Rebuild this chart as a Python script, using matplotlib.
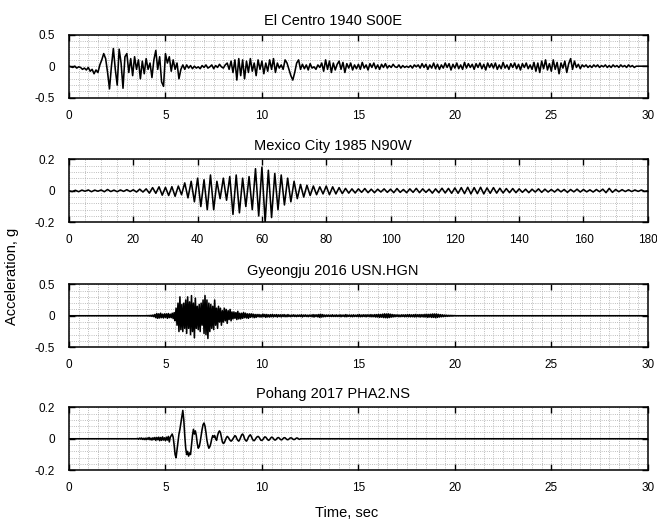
import numpy as np
import matplotlib.pyplot as plt
from matplotlib.ticker import MultipleLocator

plt.rcParams['font.family'] = ['Liberation Sans', 'DejaVu Sans']
plt.rcParams['axes.unicode_minus'] = False

# El Centro 1940 S00E, dt = 0.1 s starting at 0 s
elc_t0 = 0.0
elc_dt = 0.1
elc_acc = [
    0.0, -0.01, -0.02, 0.0, -0.03, -0.01, -0.02, -0.05, -0.03, -0.06,
    -0.02, -0.08, -0.05, -0.12, -0.06, -0.1, 0.02, 0.1, 0.2, 0.12,
    -0.1, -0.36, 0.0, 0.28, -0.05, -0.3, 0.27, 0.05, -0.35, 0.15,
    0.2, -0.1, 0.12, -0.15, 0.15, -0.05, 0.1, -0.2, 0.08, -0.12,
    0.12, -0.05, 0.05, -0.18, 0.1, 0.25, -0.05, 0.15, -0.25, -0.32,
    0.2, 0.05, 0.15, -0.08, 0.1, -0.05, 0.05, -0.2, -0.05, 0.02,
    -0.05, 0.02, -0.03, 0.01, -0.04, 0.0, -0.03, -0.01, -0.04, 0.01,
    -0.02, 0.02, -0.03, -0.01, 0.02, -0.04, 0.01, -0.02, 0.03, -0.01,
    -0.03, 0.02, 0.05, -0.05, 0.08, -0.1, 0.1, -0.22, 0.12, -0.15,
    0.1, -0.2, 0.08, -0.1, 0.12, -0.08, 0.05, -0.15, 0.1, -0.05,
    0.08, -0.12, 0.05, -0.08, 0.1, -0.05, 0.12, -0.1, 0.05, -0.03,
    0.02, -0.05, 0.1, 0.05, -0.05, -0.15, -0.22, -0.1, 0.05, 0.1,
    -0.05, 0.03, -0.04, 0.02, -0.06, 0.04, -0.03, -0.01, -0.05, 0.02,
    -0.02, 0.05, -0.08, 0.1, -0.05, 0.08, -0.1, 0.05, -0.06, 0.03,
    0.08, -0.05, 0.06, -0.1, 0.04, -0.03, 0.05, -0.06, 0.02, -0.04,
    0.03, -0.05, 0.06, -0.03, 0.02, -0.06, 0.04, -0.02, 0.05, -0.04,
    0.02, -0.05, 0.03, -0.02, 0.04, -0.03, 0.01, -0.02, 0.03, -0.01,
    -0.02, 0.02, -0.03, 0.01, -0.02, 0.0, -0.02, 0.01, -0.03, 0.02,
    -0.01, 0.02, -0.03, 0.04, -0.02, 0.03, -0.05, 0.02, -0.03, 0.05,
    -0.04, 0.03, -0.05, 0.02, -0.03, 0.05, -0.02, 0.04, -0.06, 0.03,
    -0.03, 0.05, -0.04, 0.02, -0.05, 0.06, -0.03, 0.04, -0.02, 0.03,
    -0.05, 0.04, -0.02, 0.05, -0.04, 0.03, -0.06, 0.05, -0.02, 0.04,
    -0.03, 0.05, -0.05, 0.02, -0.04, 0.06, -0.03, 0.02, -0.05, 0.04,
    -0.02, 0.05, -0.04, 0.03, -0.06, 0.04, -0.02, 0.05, -0.04, 0.02,
    -0.05, 0.06, -0.08, 0.05, -0.1, 0.08, -0.04, 0.1, -0.06, 0.04,
    -0.08, 0.1, -0.05, 0.06, -0.12, 0.05, -0.03, 0.08, -0.1, 0.04,
    0.12, -0.05, 0.08, -0.02, 0.03, -0.04, 0.02, -0.01, 0.02, -0.02,
    0.01, -0.02, 0.02, -0.01, 0.02, -0.02, 0.01, -0.01, 0.02, -0.02,
    0.01, -0.02, 0.02, -0.01, 0.01, -0.02, 0.02, -0.01, 0.01, -0.02,
    0.02, -0.01, 0.01, -0.02, 0.0,
]

# Mexico City 1985 N90W, dt = 1 s starting at 0 s
mex_t0 = 0.0
mex_dt = 1.0
mex_acc = [
    0.0, -0.005, 0.003, -0.006, 0.004, -0.003, 0.005, -0.006, 0.004, -0.003,
    0.005, -0.006, 0.008, -0.005, 0.004, -0.006, 0.005, -0.004, 0.007, -0.005,
    0.006, -0.008, 0.01, -0.008, 0.012, -0.015, 0.02, -0.016, 0.025, -0.028,
    0.022, -0.03, 0.026, -0.035, 0.03, -0.025, 0.05, -0.045, 0.06, -0.07,
    0.08, -0.1, 0.07, -0.12, 0.1, -0.12, 0.06, -0.05, 0.08, -0.06,
    0.09, -0.15, 0.1, -0.14, 0.08, -0.1, 0.09, -0.12, 0.14, -0.16,
    0.15, -0.2, 0.13, -0.17, 0.11, -0.12, 0.1, -0.09, 0.08, -0.07,
    0.06, -0.05, 0.04, -0.04, 0.035, -0.03, 0.03, -0.025, 0.025, -0.02,
    0.03, -0.025, 0.025, -0.02, 0.02, -0.018, 0.015, -0.015, 0.012, -0.014,
    0.012, -0.01, 0.014, -0.012, 0.01, -0.012, 0.01, -0.008, 0.012, -0.01,
    0.01, -0.012, 0.014, -0.01, 0.008, -0.012, 0.012, -0.01, 0.015, -0.012,
    0.012, -0.01, 0.01, -0.015, 0.012, -0.012, 0.016, -0.014, 0.015, -0.016,
    0.018, -0.016, 0.02, -0.018, 0.022, -0.02, 0.02, -0.018, 0.022, -0.02,
    0.018, -0.016, 0.02, -0.015, 0.016, -0.014, 0.014, -0.012, 0.014, -0.012,
    0.012, -0.01, 0.01, -0.012, 0.01, -0.008, 0.012, -0.01, 0.01, -0.008,
    0.008, -0.008, 0.01, -0.007, 0.008, -0.01, 0.008, -0.007, 0.01, -0.008,
    0.008, -0.007, 0.006, -0.008, 0.008, -0.006, 0.01, -0.012, 0.015, -0.01,
    0.008, -0.006, 0.007, -0.005, 0.006, -0.005, 0.005, -0.004, 0.005, -0.004,
    0.0,
]

# Gyeongju 2016 USN.HGN, dt = 0.05 s starting at 4 s
gj_t0 = 4.0
gj_dt = 0.05
gj_acc = [
    0.0, 0.003, -0.004, 0.005, -0.006, 0.008, -0.01, 0.012, -0.015, 0.02,
    -0.03, 0.035, -0.04, 0.03, -0.035, 0.04, -0.03, 0.025, -0.035, 0.03,
    -0.025, 0.03, -0.04, 0.035, -0.03, 0.025, -0.03, 0.04, -0.045, 0.05,
    -0.08, 0.12, -0.15, 0.2, -0.25, 0.3, -0.22, 0.18, -0.25, 0.2,
    -0.2, 0.25, -0.28, 0.3, -0.2, 0.22, -0.3, 0.32, -0.25, 0.2,
    -0.35, 0.28, -0.2, 0.15, -0.22, 0.18, -0.25, 0.2, -0.15, 0.25,
    -0.28, 0.32, -0.3, 0.25, -0.36, 0.2, -0.25, 0.18, -0.2, 0.15,
    -0.22, 0.25, -0.15, 0.12, -0.2, 0.15, -0.1, 0.12, -0.15, 0.08,
    -0.1, 0.12, -0.08, 0.1, -0.12, 0.08, -0.06, 0.1, -0.08, 0.06,
    -0.05, 0.06, -0.04, 0.05, -0.06, 0.07, -0.05, 0.04, -0.05, 0.04,
    -0.04, 0.05, -0.03, 0.04, -0.035, 0.03, -0.04, 0.03, -0.025, 0.03,
    -0.02, 0.025, -0.03, 0.02, -0.025, 0.02, -0.015, 0.02, -0.02, 0.015,
    -0.02, 0.025, -0.015, 0.02, -0.025, 0.02, -0.018, 0.015, -0.02, 0.018,
    -0.015, 0.02, -0.018, 0.015, -0.012, 0.018, -0.02, 0.015, -0.012, 0.015,
    -0.018, 0.015, -0.012, 0.018, -0.015, 0.012, -0.015, 0.018, -0.012, 0.01,
    -0.015, 0.012, -0.01, 0.015, -0.012, 0.01, -0.014, 0.012, -0.01, 0.012,
    -0.012, 0.015, -0.018, 0.012, -0.01, 0.014, -0.012, 0.01, -0.015, 0.012,
    -0.01, 0.012, -0.015, 0.018, -0.02, 0.015, -0.012, 0.015, -0.018, 0.02,
    -0.025, 0.022, -0.02, 0.018, -0.015, 0.012, -0.014, 0.012, -0.01, 0.012,
    -0.012, 0.01, -0.012, 0.015, -0.012, 0.01, -0.012, 0.014, -0.012, 0.01,
    -0.012, 0.014, -0.015, 0.012, -0.01, 0.012, -0.015, 0.018, -0.015, 0.012,
    -0.01, 0.012, -0.014, 0.012, -0.015, 0.014, -0.012, 0.01, -0.012, 0.014,
    -0.015, 0.018, -0.015, 0.012, -0.014, 0.015, -0.012, 0.014, -0.016, 0.015,
    -0.012, 0.014, -0.015, 0.018, -0.016, 0.014, -0.015, 0.018, -0.02, 0.018,
    -0.02, 0.022, -0.025, 0.02, -0.022, 0.025, -0.028, 0.03, -0.03, 0.028,
    -0.032, 0.03, -0.028, 0.025, -0.022, 0.02, -0.018, 0.016, -0.015, 0.014,
    -0.012, 0.014, -0.015, 0.012, -0.014, 0.015, -0.012, 0.014, -0.016, 0.015,
    -0.014, 0.016, -0.015, 0.018, -0.016, 0.014, -0.015, 0.016, -0.018, 0.02,
    -0.018, 0.016, -0.015, 0.018, -0.02, 0.018, -0.016, 0.018, -0.02, 0.022,
    -0.02, 0.022, -0.025, 0.022, -0.02, 0.024, -0.026, 0.028, -0.025, 0.028,
    -0.03, 0.028, -0.025, 0.022, -0.02, 0.018, -0.016, 0.015, -0.014, 0.012,
    -0.012, 0.01, -0.01, 0.008, -0.008, 0.007, -0.006, 0.006, -0.005, 0.004,
    0.0,
]

# Pohang 2017 PHA2.NS, dt = 0.05 s starting at 3.5 s
ph_t0 = 3.5
ph_dt = 0.05
ph_acc = [
    0.0, 0.002, -0.003, 0.004, -0.002, 0.005, -0.004, 0.003, -0.005, 0.004,
    -0.006, 0.005, -0.004, 0.008, -0.006, 0.004, -0.008, 0.006, -0.005, 0.008,
    -0.01, 0.008, -0.006, 0.01, -0.012, 0.008, -0.01, 0.012, -0.008, 0.006,
    -0.012, 0.01, -0.008, 0.015, -0.02, 0.01, 0.02, 0.03, 0.01, -0.04,
    -0.1, -0.12, -0.07, -0.02, 0.03, 0.06, 0.1, 0.14, 0.18, 0.12,
    0.02, -0.06, -0.1, -0.08, -0.11, -0.09, -0.1, -0.04, 0.02, 0.06,
    0.03, 0.05, 0.02, -0.03, -0.06, -0.05, -0.02, 0.02, 0.06, 0.09,
    0.1, 0.08, 0.04, -0.01, -0.04, -0.06, -0.05, -0.03, 0.0, 0.02,
    0.01, 0.02, 0.0, -0.01, 0.02, 0.04, 0.05, 0.04, 0.01, -0.02,
    -0.03, -0.025, -0.01, 0.005, 0.015, 0.01, 0.0, -0.01, -0.015, -0.01,
    0.0, 0.01, 0.02, 0.015, 0.0, -0.01, -0.015, -0.005, 0.01, 0.025,
    0.03, 0.02, 0.0, -0.01, -0.015, -0.005, 0.01, 0.02, 0.025, 0.015,
    0.0, -0.01, -0.012, -0.005, 0.005, 0.012, 0.015, 0.01, 0.0, -0.01,
    -0.01, -0.005, 0.005, 0.012, 0.01, 0.002, -0.006, -0.01, -0.005, 0.004,
    0.01, 0.008, 0.0, -0.007, -0.008, -0.002, 0.005, 0.008, 0.004, -0.003,
    -0.007, -0.005, 0.002, 0.007, 0.006, 0.0, -0.005, -0.006, -0.002, 0.004,
    0.006, 0.004, -0.002, -0.005, -0.004, 0.001, 0.005, 0.004, -0.001, -0.004,
    0.0,
]

titles = ["El Centro 1940 S00E", "Mexico City 1985 N90W",
          "Gyeongju 2016 USN.HGN", "Pohang 2017 PHA2.NS"]
records = [(elc_t0, elc_dt, elc_acc), (mex_t0, mex_dt, mex_acc),
           (gj_t0, gj_dt, gj_acc), (ph_t0, ph_dt, ph_acc)]
t_end = [30, 180, 30, 30]
y_lim = [0.5, 0.2, 0.5, 0.2]
x_major = [5, 20, 5, 5]
x_minor = [0.5, 5, 0.5, 0.5]

fig = plt.figure(figsize=(6.57, 5.23), dpi=100)
bottoms = [0.8132, 0.575, 0.336, 0.1008]

for i in range(4):
    ax = fig.add_axes([0.105, bottoms[i], 0.881, 0.1205])
    t0, dt, acc = records[i]
    t = t0 + dt * np.arange(len(acc))
    # zero baseline before the record starts and after it ends
    t = np.concatenate(([0.0], t, [t_end[i]]))
    a = np.concatenate(([0.0], acc, [0.0]))
    ax.plot(t, a, color="black", linewidth=1.15)

    ax.set_xlim(0, t_end[i])
    ax.set_ylim(-y_lim[i], y_lim[i])
    ax.xaxis.set_major_locator(MultipleLocator(x_major[i]))
    ax.xaxis.set_minor_locator(MultipleLocator(x_minor[i]))
    ax.set_yticks([-y_lim[i], 0, y_lim[i]])
    ax.set_yticklabels([f"-{y_lim[i]}", "0", f"{y_lim[i]}"])
    ax.yaxis.set_minor_locator(MultipleLocator(y_lim[i] / 5))

    ax.grid(True, which="both", linestyle=":", color="#a8a8a8", linewidth=0.6)
    ax.tick_params(which="major", direction="in", top=True, right=True,
                   length=4, width=1.0, labelsize=8.5)
    ax.tick_params(which="minor", length=0)
    ax.tick_params(axis="x", pad=8.5)
    ax.tick_params(axis="y", pad=10)
    for s in ax.spines.values():
        s.set_linewidth(1.1)
    ax.set_title(titles[i], fontsize=10.5, pad=7, x=0.456)

fig.text(0.019, 0.472, "Acceleration, g", rotation=90, fontsize=10.5,
         ha="center", va="center")
fig.text(0.528, 0.019, "Time, sec", fontsize=10.5, ha="center", va="center")

plt.savefig("out.png", dpi=100)
